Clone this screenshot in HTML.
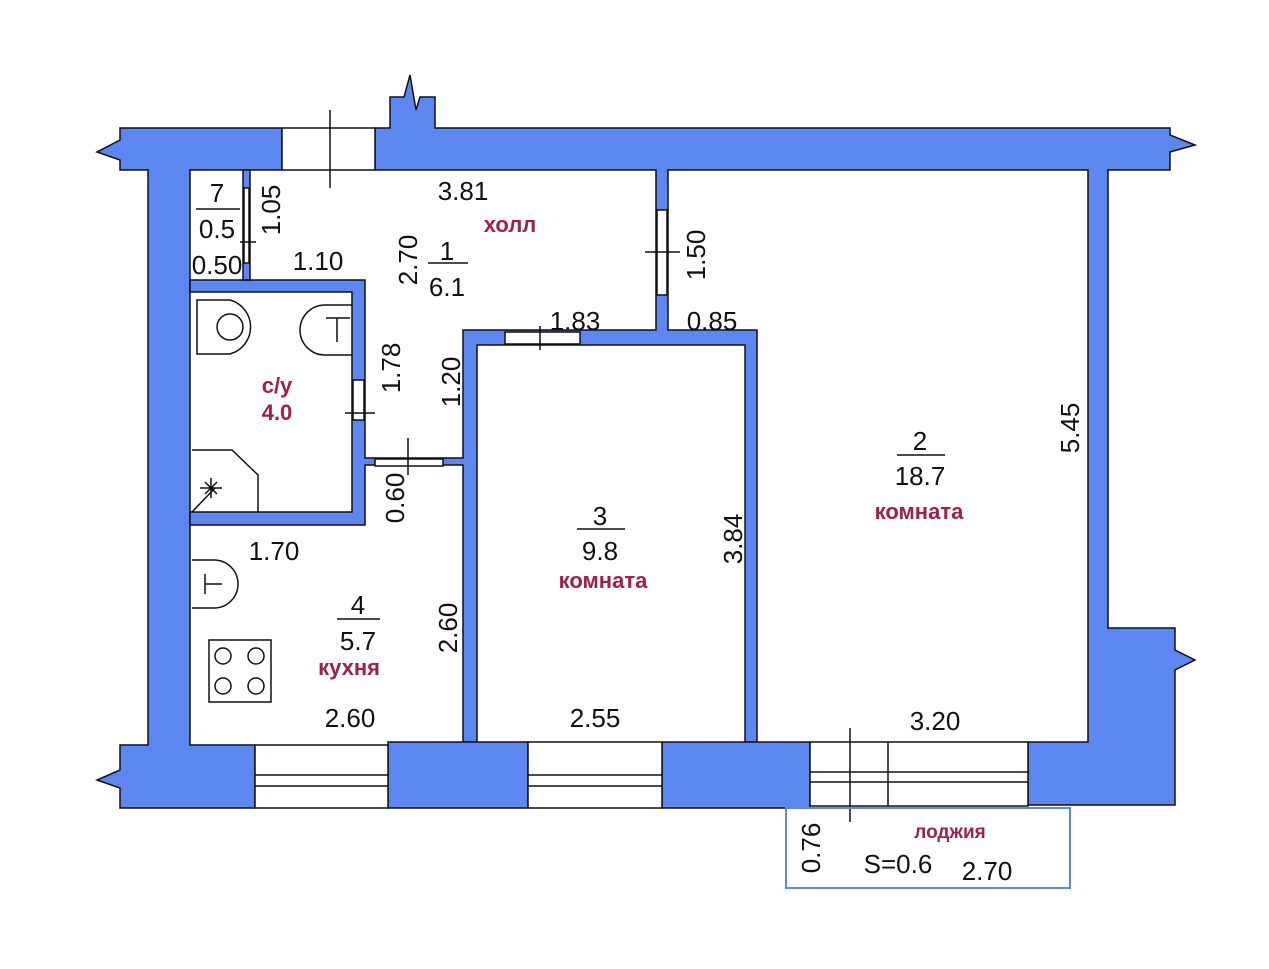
<!DOCTYPE html>
<html><head><meta charset="utf-8"><style>
html,body{margin:0;padding:0;background:#fff;}
svg{display:block}
.d{font-family:"Liberation Sans Narrow","Liberation Sans",sans-serif;font-size:26px;fill:#111;}
.l{font-family:"Liberation Sans","DejaVu Sans",sans-serif;font-weight:bold;font-size:22px;fill:#a0204a;}
</style></head><body>
<svg width="1269" height="969" viewBox="0 0 1269 969" xmlns="http://www.w3.org/2000/svg">
<g fill="#5d87f0" stroke="#111" stroke-width="1.5">
<path d="M120,128 L282,128 L282,170 L190,170 L190,745 L255,745 L255,808 L120,808 L120,788 L97,780 L120,770 L120,745 L148,745 L148,170 L120,170 L120,160 L97,152 L120,140 Z"/>
<path d="M375,128 L390,128 L390,97 L404,97 L410,75 L416,110 L420,97 L435,97 L435,128 L1170,128 L1170,135 L1195,145 L1170,152 L1170,170 L1108,170 L1108,628 L1175,628 L1175,650 L1195,660 L1175,670 L1175,805 L1028,805 L1028,742 L1088,742 L1088,170 L668,170 L668,330 L757,330 L757,742 L745,742 L745,345 L477,345 L477,742 L463,742 L463,465 L365,465 L365,525 L190,525 L190,512 L352,512 L352,292 L190,292 L190,280 L365,280 L365,458 L463,458 L463,330 L656,330 L656,170 L375,170 Z"/>
<rect x="388" y="742" width="140" height="66"/>
<rect x="662" y="742" width="148" height="66"/>
<rect x="243" y="170" width="7" height="110"/>
</g>
<g fill="#fff" stroke="#111" stroke-width="1.5">
<rect x="282" y="128" width="93" height="42"/>
<rect x="255" y="745" width="133" height="63"/>
<rect x="528" y="742" width="134" height="66"/>
<rect x="810" y="742" width="218" height="64"/>
<rect x="657" y="210" width="10" height="85"/>
<rect x="505" y="332" width="75" height="12"/>
<rect x="353" y="380" width="11" height="40"/>
<rect x="244" y="188" width="5" height="75"/>
<rect x="375" y="459" width="68" height="7"/>
</g>
<g stroke="#111" stroke-width="1.5" fill="none">
<line x1="255" y1="775" x2="388" y2="775"/><line x1="255" y1="786" x2="388" y2="786"/>
<line x1="528" y1="775" x2="662" y2="775"/><line x1="528" y1="786" x2="662" y2="786"/>
<line x1="810" y1="772" x2="1028" y2="772"/><line x1="810" y1="782" x2="1028" y2="782"/>
<line x1="888" y1="742" x2="888" y2="806"/>
<line x1="850" y1="728" x2="850" y2="822"/>
<line x1="330" y1="110" x2="330" y2="188"/>
<line x1="645" y1="252" x2="680" y2="252"/>
<line x1="540" y1="326" x2="540" y2="350"/>
<line x1="345" y1="413" x2="375" y2="413"/>
<line x1="408" y1="438" x2="408" y2="475"/>
<line x1="240" y1="242" x2="256" y2="242"/>
<rect x="786" y="808" width="284" height="80" stroke="#5d87f0" stroke-width="2"/>
<path d="M197,300 L230,300 A28,28 0 0 1 230,354 L197,354 Z"/>
<circle cx="230" cy="327" r="13"/>
<path d="M352,305 L325,305 A25,25 0 0 0 325,355 L352,355"/>
<path d="M337,318 L337,342 M326,318 L350,318"/>
<path d="M192,450 L232,450 L258,475 L258,512"/>
<path d="M192,512 L215,488 M205,482 l12,12 M217,482 l-12,12 M211,478 l0,20 M200,488 l22,0"/>
<path d="M192,560 L214,560 A24,24 0 0 1 214,608 L192,608"/>
<path d="M205,574 L205,594 M205,584 L222,584"/>
<rect x="209" y="640" width="62" height="62"/>
<circle cx="223" cy="656" r="8"/><circle cx="256" cy="656" r="8"/>
<circle cx="223" cy="686" r="8"/><circle cx="256" cy="686" r="8"/>
<line x1="196" y1="209" x2="240" y2="209"/>
<line x1="428" y1="263" x2="468" y2="263"/>
<line x1="577" y1="529" x2="625" y2="529"/>
<line x1="897" y1="455" x2="945" y2="455"/>
<line x1="337" y1="619" x2="380" y2="619"/>
</g>
<g class="d">
<text x="463" y="200" text-anchor="middle">3.81</text>
<text x="318" y="270" text-anchor="middle">1.10</text>
<text x="217" y="202" text-anchor="middle">7</text>
<text x="217" y="238" text-anchor="middle">0.5</text>
<text x="217" y="274" text-anchor="middle">0.50</text>
<text x="447" y="260" text-anchor="middle">1</text>
<text x="447" y="296" text-anchor="middle">6.1</text>
<text x="575" y="330" text-anchor="middle">1.83</text>
<text x="712" y="330" text-anchor="middle">0.85</text>
<text x="920" y="450" text-anchor="middle">2</text>
<text x="920" y="485" text-anchor="middle">18.7</text>
<text x="600" y="525" text-anchor="middle">3</text>
<text x="600" y="560" text-anchor="middle">9.8</text>
<text x="274" y="560" text-anchor="middle">1.70</text>
<text x="358" y="614" text-anchor="middle">4</text>
<text x="358" y="650" text-anchor="middle">5.7</text>
<text x="350" y="727" text-anchor="middle">2.60</text>
<text x="595" y="727" text-anchor="middle">2.55</text>
<text x="935" y="730" text-anchor="middle">3.20</text>
<text x="898" y="873" text-anchor="middle">S=0.6</text>
<text x="987" y="880" text-anchor="middle">2.70</text>
<text transform="translate(280,210) rotate(-90)" text-anchor="middle">1.05</text>
<text transform="translate(417,260) rotate(-90)" text-anchor="middle">2.70</text>
<text transform="translate(705,255) rotate(-90)" text-anchor="middle">1.50</text>
<text transform="translate(400,368) rotate(-90)" text-anchor="middle">1.78</text>
<text transform="translate(460,382) rotate(-90)" text-anchor="middle">1.20</text>
<text transform="translate(404,498) rotate(-90)" text-anchor="middle">0.60</text>
<text transform="translate(457,628) rotate(-90)" text-anchor="middle">2.60</text>
<text transform="translate(742,539) rotate(-90)" text-anchor="middle">3.84</text>
<text transform="translate(1079,428) rotate(-90)" text-anchor="middle">5.45</text>
<text transform="translate(820,848) rotate(-90)" text-anchor="middle">0.76</text>
</g>
<g class="l">
<text x="510" y="232" text-anchor="middle">холл</text>
<text x="277" y="393" text-anchor="middle">с/у</text>
<text x="277" y="420" text-anchor="middle">4.0</text>
<text x="603" y="588" text-anchor="middle">комната</text>
<text x="919" y="519" text-anchor="middle">комната</text>
<text x="349" y="675" text-anchor="middle">кухня</text>
<text x="950" y="838" text-anchor="middle" font-size="19">лоджия</text>
</g>
</svg>
</body></html>
